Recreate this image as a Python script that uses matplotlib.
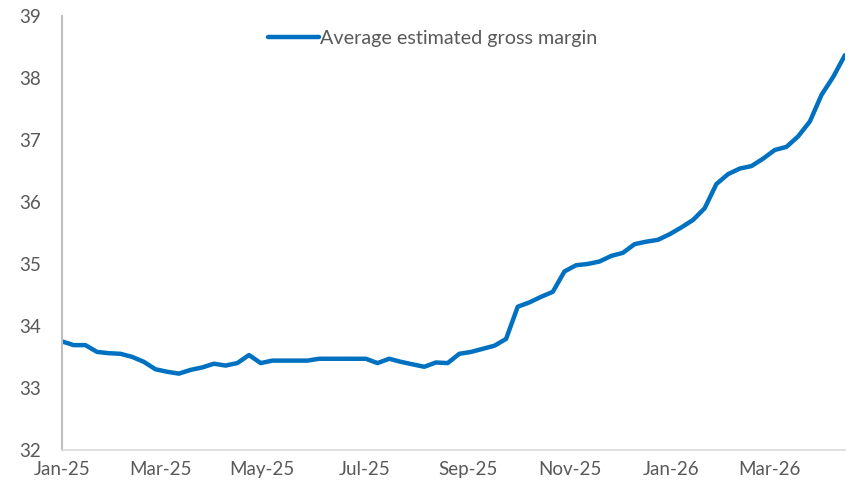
import numpy as np
import pandas as pd
import matplotlib
matplotlib.use('Agg')
import matplotlib.pyplot as plt
import matplotlib.dates as mdates

# weekly series
start_date = '2025-01-03'
n_weeks = 68
margin = [33.75, 33.69, 33.69, 33.58, 33.56, 33.55, 33.50, 33.42, 33.30, 33.26,
          33.23, 33.29, 33.33, 33.39, 33.36, 33.40, 33.53, 33.40, 33.44, 33.44,
          33.44, 33.44, 33.47, 33.47, 33.47, 33.47, 33.47, 33.40, 33.47, 33.42,
          33.38, 33.34, 33.41, 33.40, 33.55, 33.58, 33.63, 33.68, 33.79, 34.31,
          34.38, 34.47, 34.55, 34.88, 34.98, 35.00, 35.04, 35.13, 35.18, 35.32,
          35.36, 35.39, 35.48, 35.59, 35.71, 35.90, 36.29, 36.45, 36.54, 36.58,
          36.70, 36.84, 36.89, 37.06, 37.30, 37.73, 38.02, 38.37]
series_name = 'Average estimated gross margin'
y_ticks = [32, 33, 34, 35, 36, 37, 38, 39]

dates = pd.date_range(start_date, periods=n_weeks, freq='7D')
s = pd.Series(margin, index=dates)

font = ['Lato', 'DejaVu Sans']

fig = plt.figure(figsize=(8.5, 4.9), dpi=100)
ax = fig.add_axes([0.073, 0.082, 0.921, 0.885])

ax.plot(s.index, s.values, color='#0070C0', lw=3.2, solid_capstyle='round',
        solid_joinstyle='round', label=series_name)

ax.set_ylim(32, 39)
ax.set_yticks(y_ticks)
ax.set_xlim(dates[0], dates[-1])
x_ticks = [dates[0] + pd.DateOffset(months=2 * k) for k in range(8)]
ax.set_xticks(x_ticks)
ax.xaxis.set_major_formatter(mdates.DateFormatter('%b-%y'))

for side in ['top', 'right']:
    ax.spines[side].set_visible(False)
ax.spines['left'].set_color('#BFBFBF')
ax.spines['left'].set_linewidth(1.5)
ax.spines['bottom'].set_color('#D9D9D9')
ax.spines['bottom'].set_linewidth(1.2)

ax.tick_params(length=0, colors='#595959', labelsize=13.5)
ax.tick_params(axis='y', pad=15)
ax.tick_params(axis='x', pad=8)
for lab in ax.get_xticklabels() + ax.get_yticklabels():
    lab.set_fontfamily(font)

leg = ax.legend(loc='upper center', bbox_to_anchor=(0.473, 1.01), frameon=False,
                handlelength=2.6, handletextpad=0.05,
                prop={'family': font, 'size': 14.2})
for t in leg.get_texts():
    t.set_color('#595959')

fig.savefig('out.png', dpi=100)
